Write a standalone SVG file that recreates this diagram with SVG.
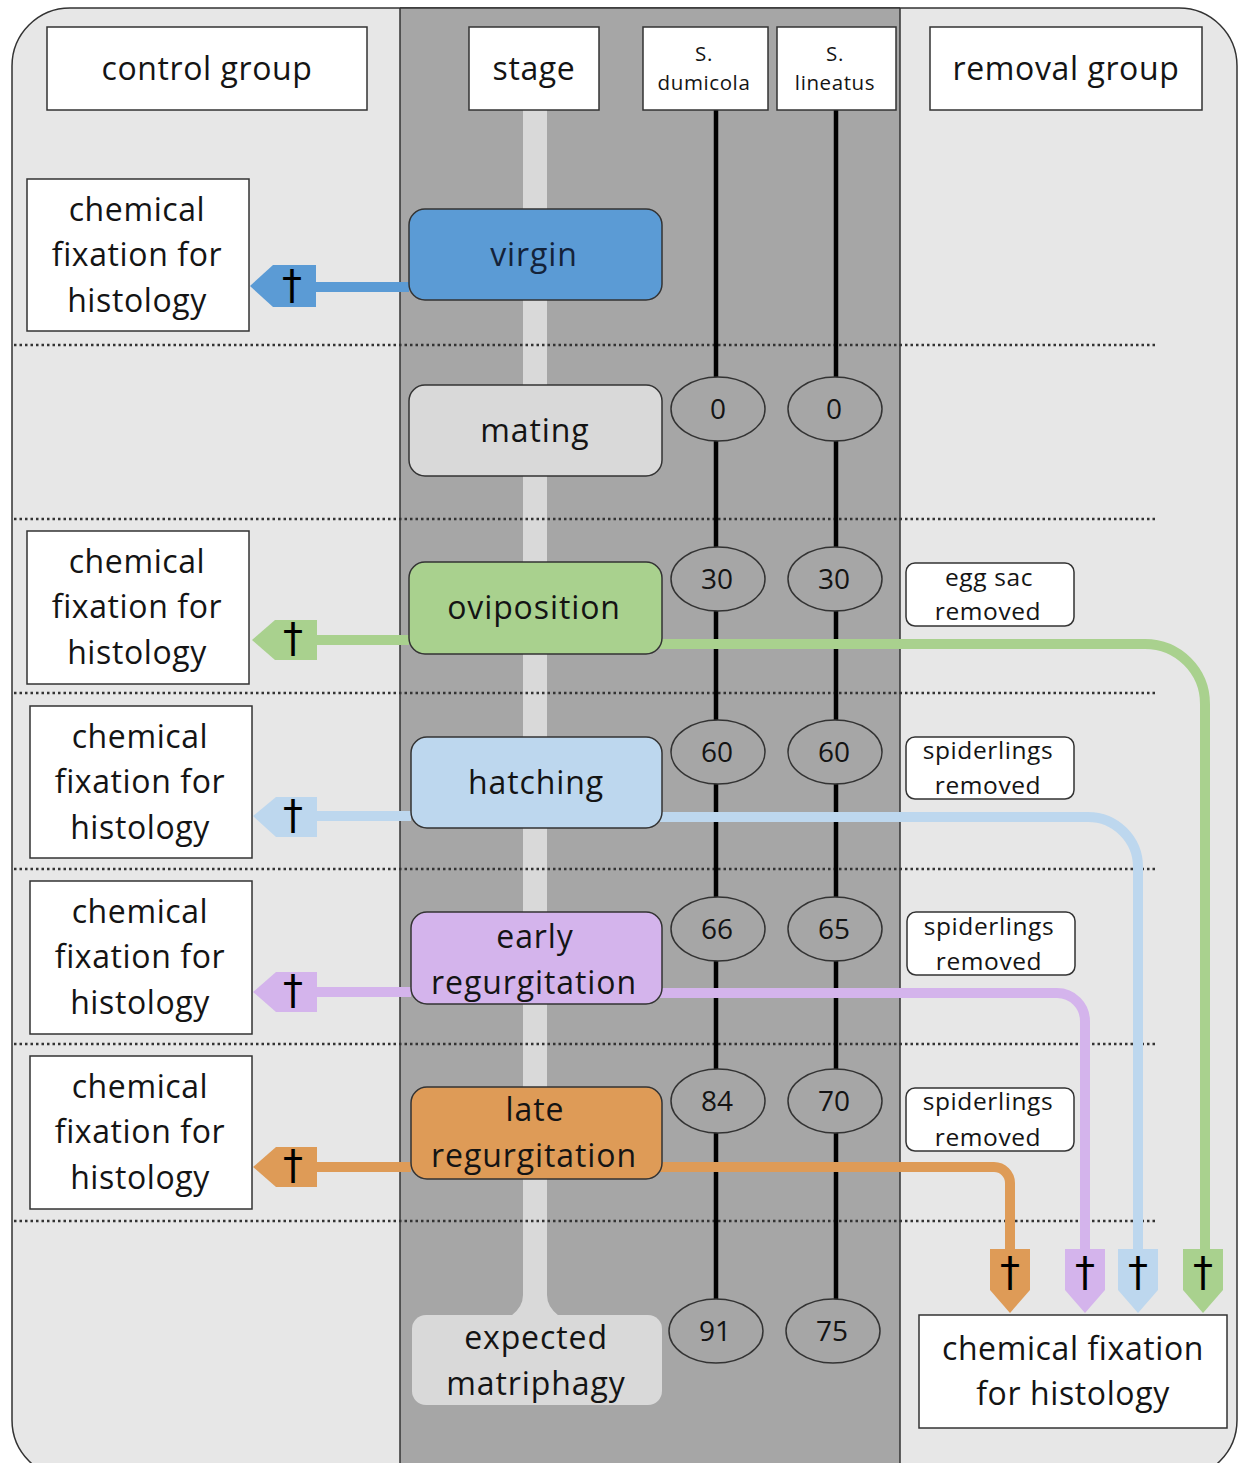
<svg xmlns="http://www.w3.org/2000/svg" width="1238" height="1463" viewBox="0 0 1238 1463">
<style>
  text { font-family: "Open Sans", Lato, "Liberation Sans", sans-serif; fill: #141414; text-anchor: middle; font-variant-ligatures: none; }
  .big { font-size: 32px; letter-spacing: 0.6px; }
  .stg { font-size: 32px; letter-spacing: 0.9px; }
  .sp { font-size: 20.5px; letter-spacing: 0.6px; }
  .num { font-size: 28px; }
  .rm { font-size: 24.5px; letter-spacing: 0.6px; }
  .dag { font-family: "DejaVu Sans", sans-serif; font-size: 40px; fill: #000; letter-spacing: 0; }
  .box { fill: #fff; stroke: #333; stroke-width: 1.5; }
  .sbox { stroke: #333; stroke-width: 1.5; }
  .ell { fill: #a6a6a6; stroke: #333; stroke-width: 1.5; }
  .dot { stroke: #333; stroke-width: 2.5; stroke-dasharray: 2.5 3; fill: none; }
  .tl { stroke: #000; stroke-width: 4.5; }
  .conn { fill: none; stroke-width: 10; }
</style>
<g id="background">
  <rect x="12" y="8" width="1225" height="1470" rx="58" ry="58" fill="#e7e7e7" stroke="#333" stroke-width="1.5"/>
  <rect x="400" y="8" width="500" height="1455" fill="#a6a6a6"/>
  <line x1="400" y1="8" x2="400" y2="1463" stroke="#333" stroke-width="1.5"/>
  <line x1="900" y1="8" x2="900" y2="1463" stroke="#333" stroke-width="1.5"/>
  <line x1="400" y1="8" x2="900" y2="8" stroke="#333" stroke-width="1.5"/>
  <rect x="523" y="110" width="24" height="1195" fill="#d9d9d9"/>
  <path d="M523,1295 Q523,1307 511,1316 H559 Q547,1307 547,1295 Z" fill="#d9d9d9"/>
</g>
<g id="separators">
  <line class="dot" x1="14" y1="345" x2="1158" y2="345"/>
  <line class="dot" x1="14" y1="519" x2="1158" y2="519"/>
  <line class="dot" x1="14" y1="693" x2="1158" y2="693"/>
  <line class="dot" x1="14" y1="869" x2="1158" y2="869"/>
  <line class="dot" x1="14" y1="1044" x2="1158" y2="1044"/>
  <line class="dot" x1="14" y1="1221" x2="1158" y2="1221"/>
</g>
<g id="timelines">
  <line class="tl" x1="716" y1="110" x2="716" y2="1305"/>
  <line class="tl" x1="836" y1="110" x2="836" y2="1305"/>
</g>
<g id="header-control"><rect class="box" x="47" y="27" width="320" height="83"/><text class="big" x="207" y="80">control group</text></g>
<g id="header-stage"><rect class="box" x="469" y="27" width="130" height="83"/><text class="big" x="534" y="80">stage</text></g>
<g id="header-dumicola"><rect class="box" x="643" y="27" width="125" height="83"/><text class="sp" x="704" y="61">S.</text><text class="sp" x="704" y="90">dumicola</text></g>
<g id="header-lineatus"><rect class="box" x="777" y="27" width="119" height="83"/><text class="sp" x="835" y="61">S.</text><text class="sp" x="835" y="90">lineatus</text></g>
<g id="header-removal"><rect class="box" x="930" y="27" width="272" height="83"/><text class="big" x="1066" y="80">removal group</text></g>

<g id="connectors">
  <line class="conn" stroke="#5b9bd5" x1="409" y1="287" x2="312" y2="287"/>
  <line class="conn" stroke="#a9d18e" x1="409" y1="640" x2="312" y2="640"/>
  <line class="conn" stroke="#bdd7ee" x1="411" y1="816" x2="312" y2="816"/>
  <line class="conn" stroke="#d4b4ec" x1="411" y1="992" x2="312" y2="992"/>
  <line class="conn" stroke="#de9b57" x1="411" y1="1167" x2="312" y2="1167"/>
  <path class="conn" stroke="#a9d18e" d="M660,644 H1145 A60,60 0 0 1 1205,704 V1255"/>
  <path class="conn" stroke="#bdd7ee" d="M660,817 H1088 A50,50 0 0 1 1138,867 V1255"/>
  <path class="conn" stroke="#d4b4ec" d="M660,993 H1057 A28,28 0 0 1 1085,1021 V1255"/>
  <path class="conn" stroke="#de9b57" d="M660,1167 H994 A16,16 0 0 1 1010,1183 V1255"/>
  <polygon fill="#5b9bd5" points="250,286 273,265 316,265 316,307 273,307"/>
  <polygon fill="#a9d18e" points="252,640 275,620 317,620 317,660 275,660"/>
  <polygon fill="#bdd7ee" points="253,816 276,797 317,797 317,837 276,837"/>
  <polygon fill="#d4b4ec" points="253,992 276,972 317,972 317,1012 276,1012"/>
  <polygon fill="#de9b57" points="253,1167 276,1147 317,1147 317,1187 276,1187"/>
  <polygon fill="#de9b57" points="990,1249 1030,1249 1030,1290 1010,1313 990,1290"/>
  <polygon fill="#d4b4ec" points="1065,1249 1105,1249 1105,1290 1085,1313 1065,1290"/>
  <polygon fill="#bdd7ee" points="1118,1249 1158,1249 1158,1290 1138,1313 1118,1290"/>
  <polygon fill="#a9d18e" points="1183,1249 1223,1249 1223,1290 1203,1313 1183,1290"/>
  <text class="dag" x="292" y="299">†</text>
  <text class="dag" x="293" y="652">†</text>
  <text class="dag" x="293" y="829">†</text>
  <text class="dag" x="293" y="1004">†</text>
  <text class="dag" x="293" y="1179">†</text>
  <text class="dag" x="1010" y="1286">†</text>
  <text class="dag" x="1085" y="1286">†</text>
  <text class="dag" x="1138" y="1286">†</text>
  <text class="dag" x="1203" y="1286">†</text>
</g>

<g id="stage-virgin"><rect class="sbox" x="409" y="209" width="253" height="91" rx="16" fill="#5b9bd5" stroke="#1f3350"/><text class="stg" x="534" y="266" style="fill:#14233a">virgin</text></g>
<g id="stage-mating"><rect class="sbox" x="409" y="385" width="253" height="91" rx="16" fill="#d9d9d9" stroke="#555"/><text class="stg" x="535" y="442">mating</text></g>
<g id="stage-oviposition"><rect class="sbox" x="409" y="562" width="253" height="92" rx="16" fill="#a9d18e"/><text class="stg" x="534" y="619">oviposition</text></g>
<g id="stage-hatching"><rect class="sbox" x="411" y="737" width="251" height="91" rx="16" fill="#bdd7ee"/><text class="stg" x="536" y="794">hatching</text></g>
<g id="stage-early"><rect class="sbox" x="411" y="912" width="251" height="92" rx="16" fill="#d4b4ec"/><text class="stg" x="535" y="948">early</text><text class="stg" x="534" y="994">regurgitation</text></g>
<g id="stage-late"><rect class="sbox" x="411" y="1087" width="251" height="92" rx="16" fill="#de9b57"/><text class="stg" x="535" y="1121">late</text><text class="stg" x="534" y="1167">regurgitation</text></g>
<g id="stage-matriphagy"><rect x="412" y="1315" width="250" height="90" rx="14" fill="#d9d9d9"/><text class="stg" x="536" y="1349">expected</text><text class="stg" x="536" y="1395">matriphagy</text></g>

<g id="days-dumicola">
  <ellipse class="ell" cx="718" cy="409" rx="47" ry="32"/><text class="num" x="718" y="419">0</text>
  <ellipse class="ell" cx="718" cy="579" rx="47" ry="32"/><text class="num" x="717" y="589">30</text>
  <ellipse class="ell" cx="718" cy="752" rx="47" ry="32"/><text class="num" x="717" y="762">60</text>
  <ellipse class="ell" cx="718" cy="929" rx="47" ry="32"/><text class="num" x="717" y="939">66</text>
  <ellipse class="ell" cx="718" cy="1101" rx="47" ry="32"/><text class="num" x="717" y="1111">84</text>
  <ellipse class="ell" cx="716" cy="1331" rx="47" ry="32"/><text class="num" x="715" y="1341">91</text>
</g>
<g id="days-lineatus">
  <ellipse class="ell" cx="835" cy="409" rx="47" ry="32"/><text class="num" x="834" y="419">0</text>
  <ellipse class="ell" cx="835" cy="579" rx="47" ry="32"/><text class="num" x="834" y="589">30</text>
  <ellipse class="ell" cx="835" cy="752" rx="47" ry="32"/><text class="num" x="834" y="762">60</text>
  <ellipse class="ell" cx="835" cy="929" rx="47" ry="32"/><text class="num" x="834" y="939">65</text>
  <ellipse class="ell" cx="835" cy="1101" rx="47" ry="32"/><text class="num" x="834" y="1111">70</text>
  <ellipse class="ell" cx="833" cy="1331" rx="47" ry="32"/><text class="num" x="832" y="1341">75</text>
</g>

<g id="control-1"><rect class="box" x="27" y="179" width="222" height="152"/><text class="big" x="137" y="221">chemical</text><text class="big" x="137" y="266">fixation for</text><text class="big" x="137" y="312">histology</text></g>
<g id="control-2"><rect class="box" x="27" y="531" width="222" height="153"/><text class="big" x="137" y="573">chemical</text><text class="big" x="137" y="618">fixation for</text><text class="big" x="137" y="664">histology</text></g>
<g id="control-3"><rect class="box" x="30" y="706" width="222" height="152"/><text class="big" x="140" y="748">chemical</text><text class="big" x="140" y="793">fixation for</text><text class="big" x="140" y="839">histology</text></g>
<g id="control-4"><rect class="box" x="30" y="881" width="222" height="153"/><text class="big" x="140" y="923">chemical</text><text class="big" x="140" y="968">fixation for</text><text class="big" x="140" y="1014">histology</text></g>
<g id="control-5"><rect class="box" x="30" y="1056" width="222" height="153"/><text class="big" x="140" y="1098">chemical</text><text class="big" x="140" y="1143">fixation for</text><text class="big" x="140" y="1189">histology</text></g>

<g id="removal-1"><rect class="box" x="906" y="563" width="168" height="63" rx="9"/><text class="rm" x="989" y="586">egg sac</text><text class="rm" x="988" y="620">removed</text></g>
<g id="removal-2"><rect class="box" x="906" y="737" width="168" height="62" rx="9"/><text class="rm" x="988" y="759">spiderlings</text><text class="rm" x="988" y="794">removed</text></g>
<g id="removal-3"><rect class="box" x="907" y="912" width="168" height="63" rx="9"/><text class="rm" x="989" y="935">spiderlings</text><text class="rm" x="989" y="970">removed</text></g>
<g id="removal-4"><rect class="box" x="906" y="1088" width="168" height="63" rx="9"/><text class="rm" x="988" y="1110">spiderlings</text><text class="rm" x="988" y="1146">removed</text></g>

<g id="removal-fixation"><rect class="box" x="919" y="1315" width="308" height="113"/><text class="big" x="1073" y="1360">chemical fixation</text><text class="big" x="1073" y="1405">for histology</text></g>
</svg>
